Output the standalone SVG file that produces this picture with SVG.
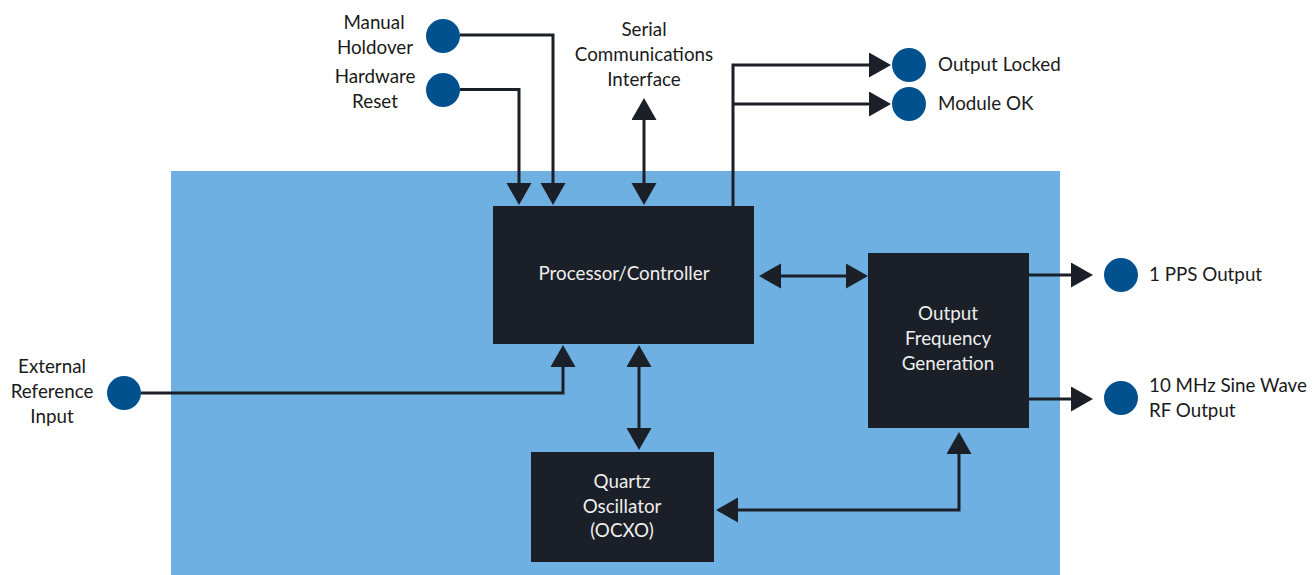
<svg xmlns="http://www.w3.org/2000/svg" width="1315" height="575" viewBox="0 0 1315 575">
<defs>
<style>
.lbl{font-family:Lato,"Liberation Sans",sans-serif;font-size:18.8px;fill:#1a1a1a}
.blk{fill:#1b1f27}
.btxt{font-family:Lato,"Liberation Sans",sans-serif;font-size:18.8px;fill:#eeeeee;text-anchor:middle}
.pin{fill:#02518f}
.wire{fill:none;stroke:#1b1f27;stroke-width:3}
.mid{text-anchor:middle}
</style>
<marker id="ah" markerUnits="userSpaceOnUse" markerWidth="23" markerHeight="26" refX="0" refY="12.5" orient="auto-start-reverse" viewBox="0 0 23 26">
<path d="M0,0 L22,12.5 L0,25 z" fill="#1b1f27"/>
</marker>
</defs>
<rect x="171" y="171" width="889" height="404" fill="#6fb0e2"/>

<g id="connectors">
<path class="wire" d="M460,35 H553 V183" marker-end="url(#ah)"/>
<path class="wire" d="M460,89.5 H519 V183" marker-end="url(#ah)"/>
<path class="wire" d="M644,120 V183" marker-start="url(#ah)" marker-end="url(#ah)"/>
<path class="wire" d="M733,206 V65 H869" marker-end="url(#ah)"/>
<path class="wire" d="M733,104 H869" marker-end="url(#ah)"/>
<path class="wire" d="M781,276 H846" marker-start="url(#ah)" marker-end="url(#ah)"/>
<path class="wire" d="M1029,275 H1071" marker-end="url(#ah)"/>
<path class="wire" d="M1029,399 H1071" marker-end="url(#ah)"/>
<path class="wire" d="M141,393 H563 V367" marker-end="url(#ah)"/>
<path class="wire" d="M639,367 V428" marker-start="url(#ah)" marker-end="url(#ah)"/>
<path class="wire" d="M738,510 H959 V454" marker-start="url(#ah)" marker-end="url(#ah)"/>
</g>

<g id="processor">
<rect class="blk" x="493" y="206" width="261" height="138"/>
<text class="btxt" x="624" y="280">Processor/Controller</text>
</g>
<g id="ofg">
<rect class="blk" x="868" y="253" width="161" height="175"/>
<text class="btxt" x="948" y="320">Output</text>
<text class="btxt" x="948" y="345">Frequency</text>
<text class="btxt" x="948" y="370">Generation</text>
</g>
<g id="quartz">
<rect class="blk" x="531" y="452" width="183" height="110"/>
<text class="btxt" x="622" y="488">Quartz</text>
<text class="btxt" x="622" y="513">Oscillator</text>
<text class="btxt" x="622" y="537">(OCXO)</text>
</g>

<g id="manual-holdover">
<circle class="pin" cx="443" cy="36" r="17"/>
<text class="lbl mid" x="374" y="29">Manual</text>
<text class="lbl mid" x="375" y="54">Holdover</text>
</g>
<g id="hardware-reset">
<circle class="pin" cx="443" cy="90" r="17"/>
<text class="lbl mid" x="375" y="83">Hardware</text>
<text class="lbl mid" x="375" y="108">Reset</text>
</g>
<g id="serial">
<text class="lbl mid" x="644" y="36">Serial</text>
<text class="lbl mid" x="644" y="61">Communications</text>
<text class="lbl mid" x="644" y="86">Interface</text>
</g>
<g id="output-locked">
<circle class="pin" cx="909" cy="65" r="17"/>
<text class="lbl" x="938" y="71">Output Locked</text>
</g>
<g id="module-ok">
<circle class="pin" cx="909" cy="104" r="17"/>
<text class="lbl" x="938" y="110">Module OK</text>
</g>
<g id="pps">
<circle class="pin" cx="1121" cy="275" r="17"/>
<text class="lbl" x="1149" y="281">1 PPS Output</text>
</g>
<g id="rf-out">
<circle class="pin" cx="1121" cy="398" r="17"/>
<text class="lbl" x="1149" y="392">10 MHz Sine Wave</text>
<text class="lbl" x="1149" y="417">RF Output</text>
</g>
<g id="ext-ref">
<circle class="pin" cx="124" cy="393" r="17"/>
<text class="lbl mid" x="52" y="373">External</text>
<text class="lbl mid" x="52" y="398">Reference</text>
<text class="lbl mid" x="52" y="423">Input</text>
</g>
</svg>
